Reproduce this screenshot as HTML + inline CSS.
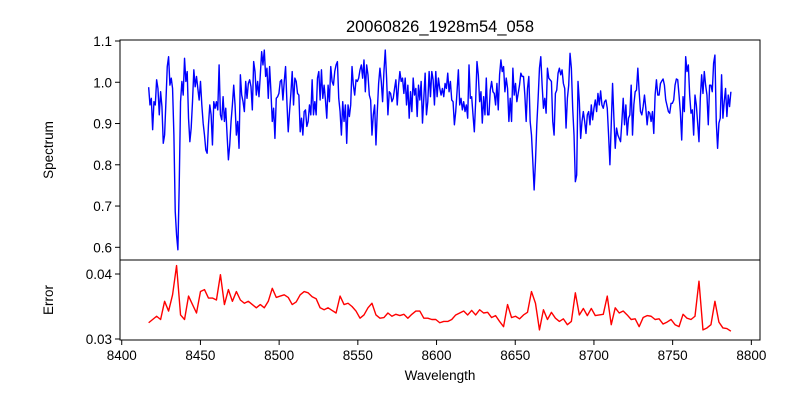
<!DOCTYPE html>
<html><head><meta charset="utf-8"><style>
body{margin:0;background:#fff;}
svg{display:block;font-family:"Liberation Sans","DejaVu Sans",sans-serif;}
</style></head><body>
<svg id="chart" width="800" height="400" viewBox="0 0 800 400">
<rect width="800" height="400" fill="#fff"/>
<text x="440" y="32" font-size="16.5" text-anchor="middle" fill="#000">20060826_1928m54_058</text>
<g id="topPanel"></g>
<g id="botPanel"></g>
<text x="440" y="380" font-size="13.5" text-anchor="middle">Wavelength</text>
<text transform="translate(53,150) rotate(-90)" font-size="13.5" text-anchor="middle">Spectrum</text>
<text transform="translate(53,300) rotate(-90)" font-size="13.5" text-anchor="middle">Error</text>
</svg>
<script>
const waveStart = 8417.1;
const waveEnd = 8787.0;
const xTicks = [8400, 8450, 8500, 8550, 8600, 8650, 8700, 8750, 8800];
const fluxTicks = [0.6, 0.7, 0.8, 0.9, 1.0, 1.1];
const errTicks = [0.03, 0.04];
const flux = [
0.988,0.945,0.961,0.885,0.953,0.945,1.006,0.985,0.921,0.977,0.941,0.852,0.872,0.953,1.038,1.062,0.993,1.010,0.985,0.872,0.687,0.630,0.594,0.751,0.953,1.002,0.969,1.058,1.002,1.026,0.913,0.856,0.889,0.953,1.030,0.989,1.014,0.985,0.957,1.002,0.945,0.901,0.872,0.836,0.828,0.897,0.945,0.921,0.848,0.953,0.937,0.953,0.933,1.042,0.921,0.909,0.965,0.905,0.937,0.872,0.812,0.848,0.905,0.945,0.993,0.945,0.872,0.905,0.840,1.018,0.969,0.953,0.929,1.002,0.961,0.997,1.006,0.989,0.933,1.050,1.026,0.969,1.002,0.965,1.018,1.074,1.042,1.078,1.014,1.034,0.961,1.038,0.977,0.905,0.937,0.864,0.961,0.965,0.973,1.002,
1.006,0.957,1.002,1.038,0.953,0.880,0.929,0.973,1.026,0.945,1.010,1.002,0.973,0.969,0.880,0.913,0.872,0.929,0.933,0.893,0.905,0.945,0.921,1.006,0.921,0.953,0.921,1.010,1.026,0.957,1.030,0.961,0.993,0.957,0.913,0.993,0.953,1.038,1.002,0.993,1.026,1.042,1.050,0.961,0.929,0.872,0.953,0.905,0.945,0.852,0.945,0.917,0.945,1.038,0.993,0.969,1.006,1.002,1.010,1.030,1.042,1.010,1.054,0.977,1.042,1.018,0.969,0.957,0.872,0.921,0.945,0.848,0.929,0.997,1.034,1.002,0.953,1.026,1.078,1.010,0.921,0.977,0.973,0.953,0.961,0.985,1.006,0.945,0.993,1.026,1.002,1.010,0.973,1.010,0.945,0.993,0.913,0.977,0.929,1.010,0.969,0.985,0.917,0.993,0.957,1.002,0.901,0.961,1.022,0.921,0.953,1.026,0.965,1.026,1.006,0.945,1.026,0.965,1.010,0.985,
0.969,0.985,0.965,0.997,0.985,1.022,0.977,1.002,0.957,0.953,0.897,0.929,0.977,1.030,0.945,0.961,0.933,0.953,0.929,0.945,0.913,1.042,0.961,0.965,0.921,0.880,0.953,1.050,1.018,0.953,0.977,0.901,0.965,0.921,1.010,0.921,0.921,0.981,1.002,0.977,0.973,0.945,0.997,0.933,1.018,1.054,1.026,1.038,0.977,1.010,0.985,0.905,0.961,0.905,1.034,0.969,0.997,0.953,0.973,0.993,1.022,1.014,1.014,0.969,0.905,0.985,1.014,0.905,0.872,0.808,0.739,0.808,0.897,0.961,1.034,1.062,0.993,0.937,0.961,0.925,1.034,1.010,1.006,1.002,0.905,0.872,0.973,0.981,1.022,1.034,1.018,1.030,0.997,0.985,0.889,0.961,0.993,1.070,1.034,0.937,0.872,0.759,0.775,1.002,0.953,0.864,0.905,0.929,0.905,0.876,0.921,0.929,0.897,0.945,0.909,0.937,0.957,0.929,0.973,0.945,
0.979,0.945,0.937,0.953,0.957,0.937,0.872,0.800,0.897,0.997,0.913,0.840,0.889,0.872,0.864,0.856,0.905,0.961,0.897,0.945,0.872,0.913,0.921,0.993,0.872,0.945,0.977,0.981,1.034,0.977,0.929,0.921,0.941,0.969,0.937,0.897,0.929,0.925,0.905,0.929,0.876,0.969,1.006,0.969,0.969,0.997,1.003,1.008,0.993,0.957,0.943,0.929,0.925,0.949,0.949,0.957,0.993,1.008,1.006,0.969,0.927,0.860,0.965,0.929,1.062,1.026,1.042,0.969,0.925,0.933,0.872,0.969,0.945,0.901,0.856,0.961,1.018,0.973,1.026,0.993,0.969,0.897,0.993,0.993,0.977,1.046,1.066,0.905,0.840,0.901,0.913,1.018,0.913,0.953,0.985,0.917,0.969,0.941,0.977
];
const err = [
0.0325,0.0330,0.0335,0.0330,0.0358,0.0343,0.0368,0.0413,0.0337,0.0330,0.0366,0.0353,0.0340,0.0373,0.0376,0.0363,0.0363,0.0360,0.0399,0.0353,0.0376,0.0358,0.0373,0.0360,0.0355,0.0358,0.0353,0.0348,0.0353,0.0348,0.0358,0.0378,0.0364,0.0366,0.0368,0.0364,0.0353,0.0357,0.0368,0.0373,0.0371,0.0365,0.0362,0.0348,0.0345,0.0348,0.0344,0.0340,0.0366,0.0353,0.0355,0.0350,0.0343,0.0332,0.0337,0.0348,0.0355,0.0337,0.0332,0.0333,0.0340,0.0335,0.0338,0.0336,0.0338,0.0332,0.0338,0.0343,0.0343,0.0332,0.0332,0.0330,0.0330,0.0325,0.0327,0.0327,0.0330,0.0337,
0.0340,0.0343,0.0337,0.0344,0.0337,0.0345,0.0340,0.0341,0.0333,0.0336,0.0327,0.0319,0.0353,0.0333,0.0335,0.0331,0.0337,0.0341,0.0373,0.0355,0.0314,0.0345,0.0330,0.0341,0.0332,0.0327,0.0331,0.0322,0.0327,0.0371,0.0337,0.0347,0.0336,0.0347,0.0336,0.0337,0.0338,0.0366,0.0322,0.0348,0.0340,0.0343,0.0337,0.0330,0.0331,0.0319,0.0333,0.0336,0.0335,0.0330,0.0331,0.0323,0.0326,0.0330,0.0322,0.0319,0.0338,0.0332,0.0330,0.0335,0.0389,0.0314,0.0317,0.0322,0.0358,0.0326,0.0317,0.0316,0.0312
];

const NS = 'http://www.w3.org/2000/svg';
const L = 120, R = 760, T1 = 40, B1 = 260, T2 = 260, B2 = 340;
const X0 = 8398.9, X1 = 8805.5;
const xS = v => L + (v - X0) / (X1 - X0) * (R - L);
const yF = v => 41 + (1.1 - v) * 412.6;
const yE = v => 274 + (0.04 - v) * 6500;
function mk(tag, attrs, parent) {
  const e = document.createElementNS(NS, tag);
  for (const k in attrs) e.setAttribute(k, attrs[k]);
  parent.appendChild(e);
  return e;
}
const topG = document.getElementById('topPanel'), botG = document.getElementById('botPanel');

function waves(n) { const a = []; for (let i = 0; i < n; i++) a.push(waveStart + (waveEnd - waveStart) * i / (n - 1)); return a; }

const wf = waves(flux.length);
let d = flux.map((v, i) => (i ? 'L' : 'M') + xS(wf[i]).toFixed(2) + ',' + yF(v).toFixed(2)).join('');
const p1 = mk('path', {d: d, fill: 'none', stroke: '#0000ff', 'stroke-width': 1.4, 'stroke-linejoin': 'round'}, topG);



const we = waves(err.length);
d = err.map((v, i) => (i ? 'L' : 'M') + xS(we[i]).toFixed(2) + ',' + yE(v).toFixed(2)).join('');
const p2 = mk('path', {d: d, fill: 'none', stroke: '#ff0000', 'stroke-width': 1.4, 'stroke-linejoin': 'round'}, botG);



const f1 = mk('rect', {x: L, y: T1, width: R - L, height: B1 - T1, fill: 'none', stroke: '#000', 'stroke-width': 1}, topG);


const f2 = mk('rect', {x: L, y: T2, width: R - L, height: B2 - T2, fill: 'none', stroke: '#000', 'stroke-width': 1}, botG);



fluxTicks.forEach(t => {
  const y = yF(t);
  const tk = mk('line', {x1: L - 5, x2: L, y1: y, y2: y, stroke: '#000'}, topG);
  
  
  const tx = mk('text', {x: L - 8, y: y + 5, 'font-size': 13.5, 'text-anchor': 'end'}, topG);
  tx.textContent = t.toFixed(1);
  
  
});
errTicks.forEach(t => {
  const y = yE(t);
  const tk = mk('line', {x1: L - 5, x2: L, y1: y, y2: y, stroke: '#000'}, botG);
  
  
  const tx = mk('text', {x: L - 8, y: y + 5, 'font-size': 13.5, 'text-anchor': 'end'}, botG);
  tx.textContent = t.toFixed(2);
  
  
});
xTicks.forEach(t => {
  const x = xS(t);
  const tk = mk('line', {x1: x, x2: x, y1: B2, y2: B2 + 5, stroke: '#000'}, botG);
  
  
  const tx = mk('text', {x: x, y: B2 + 20, 'font-size': 13.5, 'text-anchor': 'middle'}, botG);
  tx.textContent = t;
  
  
});
</script>
</body></html>
